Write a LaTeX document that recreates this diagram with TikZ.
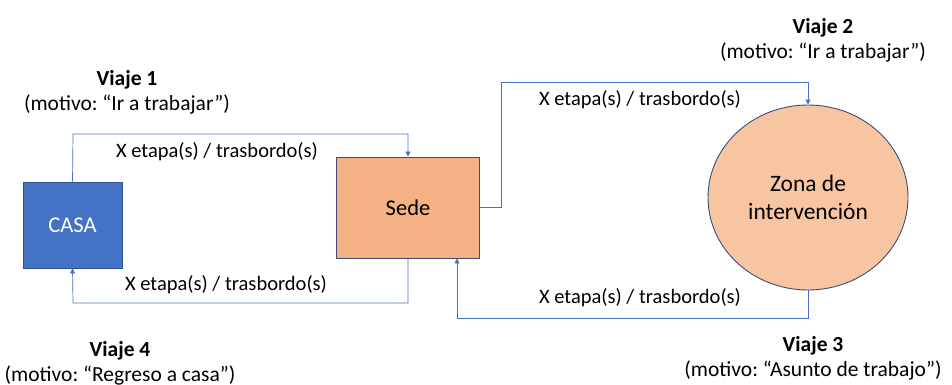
\documentclass[tikz,border=0pt]{standalone}
\usepackage{fontspec}
\setmainfont{Carlito}
\frenchspacing
\usetikzlibrary{shapes.geometric,arrows.meta}
\definecolor{casablue}{HTML}{4472C4}
\definecolor{casaline}{HTML}{2F528F}
\definecolor{sedeorange}{HTML}{F4B183}
\definecolor{zonaorange}{HTML}{F8C5A2}
\definecolor{edgeslate}{HTML}{3A4F73}

\begin{document}
\begin{tikzpicture}[x=1pt,y=-1pt,
    lugar/.style={draw=edgeslate,line width=0.9pt,inner sep=0pt,font=\fontsize{22.5}{27}\selectfont},
    conn/.style={casablue,line width=0.7pt,-{Triangle[width=5pt,length=5pt]}},
    tramo/.style={font=\fontsize{20.5}{24}\selectfont},
    viaje/.style={align=center,font=\fontsize{21.5}{25}\selectfont}]
      \useasboundingbox (0,0) rectangle (952,385);
      % lugares
      \node[lugar,fill=casablue,draw=casaline,text=white,minimum width=99pt,minimum height=86pt] (casa) at (72.5,225) {CASA};
      \node[lugar,fill=sedeorange,minimum width=143pt,minimum height=101pt] (sede) at (408,207.5) {Sede};
      \node[lugar,ellipse,fill=zonaorange,minimum width=200pt,minimum height=185pt,align=center,font=\fontsize{23.5}{28}\selectfont] (zona) at (808,197.5) {Zona de\\intervenci\'on};
      % recorridos
      \coordinate (t1) at (73,134);
      \coordinate (t2) at (501,82);
      \coordinate (t3) at (457,318);
      \coordinate (t4) at (73,303);
      \draw[conn] (casa.north) -- (t1) -| (sede.north);
      \draw[conn] (sede.east) -| (t2) -| (zona.north);
      \draw[conn] (zona.south) |- (t3) -- (t3 |- sede.south);
      \draw[conn] (sede.south) |- (t4) -- (casa.south);
      \foreach \n/\x/\y in {e1/217/152,e2/640/100,e3/640/298,e4/226/285}
        \node[tramo] (\n) at (\x,\y) {X etapa(s) / trasbordo(s)};
      % viajes
      \node[viaje] (v1) at (127,92) {\textbf{Viaje 1}\\(motivo: “Ir a trabajar”)};
      \node[viaje] (v2) at (823,40) {\textbf{Viaje 2}\\(motivo: “Ir a trabajar”)};
      \node[viaje] (v3) at (813,358) {\textbf{Viaje 3}\\(motivo: “Asunto de trabajo”)};
      \node[viaje] (v4) at (120,363) {\textbf{Viaje 4}\\(motivo: “Regreso a casa”)};
\end{tikzpicture}
\end{document}
